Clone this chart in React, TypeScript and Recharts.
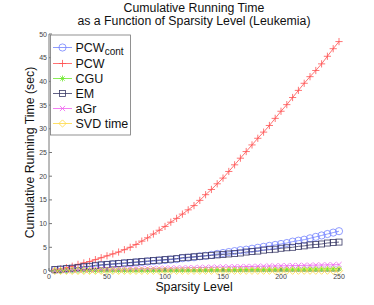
import React from "react";
import { LineChart, Line, XAxis, YAxis, Label } from "recharts";

const sparsity = [
  5, 10, 15, 20, 25, 30, 35, 40, 45, 50, 55, 60, 65, 70, 75, 80, 85, 90, 95, 100,
  105, 110, 115, 120, 125, 130, 135, 140, 145, 150, 155, 160, 165, 170, 175, 180,
  185, 190, 195, 200, 205, 210, 215, 220, 225, 230, 235, 240, 245, 250,
];

const pcwCont = [
  0.2, 0.3, 0.4, 0.5, 0.6, 0.8, 0.9, 1.0, 1.2, 1.3, 1.4, 1.5, 1.6, 1.7, 1.8, 1.9,
  2.0, 2.1, 2.2, 2.3, 2.4, 2.5, 2.7, 2.8, 2.9, 3.1, 3.2, 3.4, 3.6, 3.8, 4.0, 4.2,
  4.4, 4.5, 4.7, 4.9, 5.1, 5.3, 5.5, 5.7, 5.9, 6.2, 6.4, 6.6, 6.9, 7.2, 7.5, 7.8,
  8.1, 8.4,
];

const pcw = [
  0.2, 0.4, 0.7, 1.0, 1.4, 1.7, 2.0, 2.4, 2.8, 3.2, 3.6, 4.0, 4.5, 5.0, 5.6, 6.3,
  7.0, 7.8, 8.6, 9.4, 10.3, 11.1, 12.0, 12.9, 13.8, 14.9, 16.1, 17.2, 18.4, 19.6,
  21.0, 22.4, 23.8, 25.2, 26.6, 28.0, 29.3, 30.7, 32.2, 33.7, 35.1, 36.6, 38.1,
  39.6, 41.0, 42.3, 43.7, 45.3, 46.9, 48.4,
];

const cgu = [
  0.05, 0.05, 0.06, 0.07, 0.08, 0.09, 0.1, 0.1, 0.11, 0.12, 0.13, 0.14, 0.15,
  0.15, 0.16, 0.17, 0.18, 0.19, 0.2, 0.2, 0.21, 0.22, 0.23, 0.24, 0.25, 0.25,
  0.26, 0.27, 0.28, 0.29, 0.3, 0.3, 0.31, 0.32, 0.33, 0.34, 0.35, 0.35, 0.36,
  0.37, 0.38, 0.39, 0.4, 0.4, 0.41, 0.42, 0.43, 0.44, 0.45, 0.45,
];

const em = [
  0.3, 0.4, 0.5, 0.6, 0.7, 0.9, 1.0, 1.2, 1.3, 1.4, 1.5, 1.6, 1.7, 1.8, 1.9, 2.0,
  2.1, 2.2, 2.3, 2.4, 2.5, 2.6, 2.8, 2.9, 3.0, 3.1, 3.2, 3.3, 3.4, 3.5, 3.6, 3.7,
  3.8, 4.0, 4.1, 4.2, 4.4, 4.5, 4.6, 4.8, 4.9, 5.0, 5.2, 5.3, 5.5, 5.6, 5.7, 5.9,
  6.0, 6.1,
];

const agr = [
  0.05, 0.1, 0.1, 0.15, 0.2, 0.2, 0.25, 0.3, 0.3, 0.35, 0.35, 0.4, 0.4, 0.45,
  0.45, 0.5, 0.5, 0.55, 0.55, 0.6, 0.6, 0.65, 0.65, 0.7, 0.7, 0.75, 0.75, 0.8,
  0.8, 0.85, 0.85, 0.9, 0.9, 0.95, 0.95, 1.0, 1.0, 1.05, 1.05, 1.1, 1.1, 1.15,
  1.15, 1.2, 1.2, 1.25, 1.25, 1.3, 1.3, 1.35,
];

const svd = [
  0.01, 0.01, 0.01, 0.01, 0.01, 0.01, 0.01, 0.02, 0.02, 0.02, 0.02, 0.02, 0.02,
  0.02, 0.02, 0.02, 0.03, 0.03, 0.03, 0.03, 0.03, 0.03, 0.03, 0.03, 0.03, 0.03,
  0.04, 0.04, 0.04, 0.04, 0.04, 0.04, 0.04, 0.04, 0.04, 0.04, 0.05, 0.05, 0.05,
  0.05, 0.05, 0.05, 0.05, 0.05, 0.05, 0.05, 0.06, 0.06, 0.06, 0.06,
];

const xTicks = [0, 50, 100, 150, 200, 250];
const yTicks = [0, 5, 10, 15, 20, 25, 30, 35, 40, 45, 50];

const data = sparsity.map((s, i) => ({
  s,
  pcwCont: pcwCont[i],
  pcw: pcw[i],
  cgu: cgu[i],
  em: em[i],
  agr: agr[i],
  svd: svd[i],
}));

type Shape = "circle" | "plus" | "star" | "square" | "x" | "diamond";

function Marker({ cx, cy, shape, color }: { cx: number; cy: number; shape: Shape; color: string }) {
  const p = { stroke: color, strokeWidth: 0.8, fill: "none" };
  switch (shape) {
    case "circle":
      return <circle cx={cx} cy={cy} r={3.6} {...p} />;
    case "plus":
      return <path d={`M${cx - 3.6},${cy}H${cx + 3.6}M${cx},${cy - 3.6}V${cy + 3.6}`} {...p} />;
    case "star":
      return (
        <path
          d={`M${cx - 3},${cy}H${cx + 3}M${cx},${cy - 3}V${cy + 3}M${cx - 2.2},${cy - 2.2}L${cx + 2.2},${cy + 2.2}M${cx - 2.2},${cy + 2.2}L${cx + 2.2},${cy - 2.2}`}
          {...p}
        />
      );
    case "square":
      return <rect x={cx - 3} y={cy - 3} width={6} height={6} {...p} />;
    case "x":
      return <path d={`M${cx - 2.6},${cy - 2.6}L${cx + 2.6},${cy + 2.6}M${cx - 2.6},${cy + 2.6}L${cx + 2.6},${cy - 2.6}`} {...p} />;
    default:
      return <path d={`M${cx},${cy - 3.6}L${cx + 3.6},${cy}L${cx},${cy + 3.6}L${cx - 3.6},${cy}Z`} {...p} />;
  }
}

const series: { key: string; name: string; color: string; shape: Shape }[] = [
  { key: "pcwCont", name: "PCW", color: "#7383ff", shape: "circle" },
  { key: "pcw", name: "PCW", color: "#ff5050", shape: "plus" },
  { key: "cgu", name: "CGU", color: "#6ee830", shape: "star" },
  { key: "em", name: "EM", color: "#3a3a66", shape: "square" },
  { key: "agr", name: "aGr", color: "#f060f0", shape: "x" },
  { key: "svd", name: "SVD time", color: "#ffd840", shape: "diamond" },
];

const YTick = (props: any) => {
  const { x, y, payload } = props;
  return (
    <g>
      <line x1={x} x2={x + 3} y1={y} y2={y} stroke="#777" />
      <text x={x - 2} y={y + 2.5} textAnchor="end" fontSize={7} fill="#444">
        {payload.value}
      </text>
    </g>
  );
};

const XTick = (props: any) => {
  const { x, y, payload } = props;
  return (
    <g>
      <line x1={x} x2={x} y1={y} y2={y - 3} stroke="#777" />
      <text x={x} y={y + 8} textAnchor="middle" fontSize={7} fill="#444">
        {payload.value}
      </text>
    </g>
  );
};

const font = "'Liberation Sans', Arial, sans-serif";
const rowY = [47.5, 63.5, 78.5, 93.5, 108.5, 123.5];

export default function App() {
  return (
    <div style={{ position: "fixed", left: 0, top: 0, width: 374, height: 305, background: "#fff", fontFamily: font }}>
      <LineChart
        width={374}
        height={305}
        data={data}
        margin={{ top: 34, right: 35, bottom: 14, left: 29 }}
        style={{ fontFamily: font }}
      >
        <XAxis
          dataKey="s"
          type="number"
          domain={[0, 250]}
          ticks={xTicks}
          height={20}
          tickSize={0}
          tickMargin={0}
          tick={XTick}
          stroke="#777"
        >
          <Label value="Sparsity Level" position="insideBottom" offset={0} fontSize={12.3} fill="#111" />
        </XAxis>
        <YAxis
          type="number"
          domain={[0, 50]}
          ticks={yTicks}
          width={20}
          tickSize={0}
          tickMargin={0}
          tick={YTick}
          stroke="#777"
        >
          <Label
            content={(p: any) => {
              const vb = p.viewBox;
              const cx = vb.x + 5;
              const cy = vb.y + vb.height / 2;
              return (
                <text x={cx} y={cy} transform={`rotate(-90 ${cx} ${cy})`} textAnchor="middle" fontSize={12.3} fill="#111">
                  Cumulative Running Time (sec)
                </text>
              );
            }}
          />
        </YAxis>
        {series.map((s) => (
          <Line
            key={s.key}
            dataKey={s.key}
            stroke={s.color}
            strokeWidth={0.8}
            isAnimationActive={false}
            dot={(d: any) => <Marker key={`${s.key}-${d.index}`} cx={d.cx} cy={d.cy} shape={s.shape} color={s.color} />}
            activeDot={false}
          />
        ))}
      </LineChart>
      <svg width={374} height={305} style={{ position: "absolute", left: 0, top: 0, pointerEvents: "none" }}>
        <text x={194} y={11.5} textAnchor="middle" fontSize={12.3} fill="#111" fontFamily={font}>
          Cumulative Running Time
        </text>
        <text x={194} y={24.5} textAnchor="middle" fontSize={12.3} fill="#111" fontFamily={font}>
          as a Function of Sparsity Level (Leukemia)
        </text>
        <rect x={50.5} y={35} width={80} height={100} fill="#fff" stroke="#777" strokeWidth={0.8} />
        {series.map((s, i) => (
          <g key={s.key}>
            <line x1={53} x2={72} y1={rowY[i]} y2={rowY[i]} stroke={s.color} strokeWidth={0.8} />
            <Marker cx={62.5} cy={rowY[i]} shape={s.shape} color={s.color} />
            <text x={75.5} y={rowY[i] + 4.5} fontSize={12.5} fill="#111" fontFamily={font}>
              {s.name}
              {i === 0 && (
                <tspan fontSize={10} dy={3}>
                  cont
                </tspan>
              )}
            </text>
          </g>
        ))}
      </svg>
    </div>
  );
}
